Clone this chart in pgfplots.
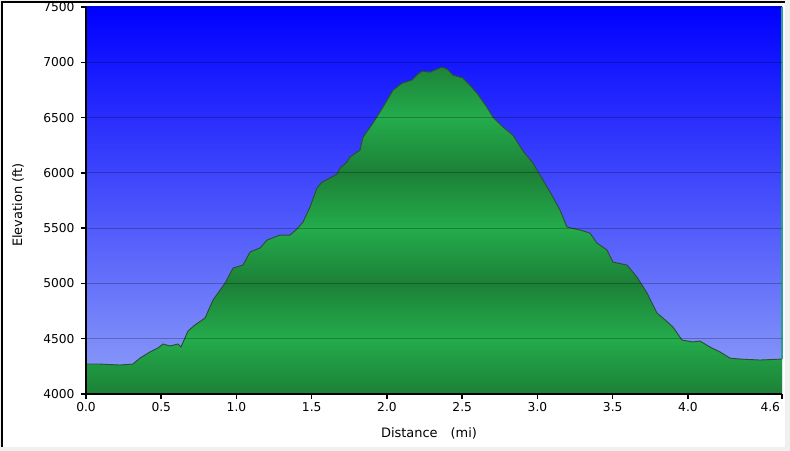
\documentclass[border=0pt]{standalone}
\usepackage{pgfplots}
\usepackage{pgfplotstable}
\pgfplotsset{compat=1.18}
\usepackage{fontspec}
\setmainfont{DejaVu Sans}
\definecolor{skytop}{RGB}{0,0,255}
\definecolor{skybot}{RGB}{143,160,248}
\definecolor{gdark}{RGB}{28,128,55}
\definecolor{glight}{RGB}{36,172,76}
\definecolor{outline}{RGB}{45,75,55}
\definecolor{edge}{RGB}{40,160,140}
\definecolor{framegray}{RGB}{240,240,240}

\pgfdeclareverticalshading{bandup}{100bp}{color(0bp)=(gdark); color(25bp)=(gdark); color(75bp)=(glight); color(100bp)=(glight)}
\pgfdeclareverticalshading{banddown}{100bp}{color(0bp)=(glight); color(25bp)=(glight); color(75bp)=(gdark); color(100bp)=(gdark)}

\pgfplotstableread{
x elev
0.000 4271
0.093 4271
0.160 4266
0.226 4262
0.312 4271
0.359 4325
0.425 4380
0.478 4416
0.512 4452
0.558 4434
0.611 4452
0.631 4425
0.678 4570
0.724 4624
0.791 4687
0.844 4850
0.924 5003
0.977 5139
1.043 5166
1.090 5284
1.156 5320
1.203 5392
1.289 5437
1.355 5437
1.402 5492
1.442 5555
1.488 5690
1.535 5862
1.568 5917
1.621 5953
1.668 5989
1.688 6043
1.734 6097
1.754 6142
1.821 6206
1.841 6323
1.907 6450
1.973 6594
2.040 6748
2.100 6811
2.166 6839
2.199 6884
2.233 6920
2.286 6911
2.332 6938
2.365 6956
2.399 6938
2.439 6884
2.505 6857
2.551 6793
2.598 6721
2.664 6594
2.704 6504
2.771 6414
2.837 6341
2.904 6197
2.970 6088
3.037 5935
3.103 5781
3.150 5663
3.196 5510
3.282 5483
3.349 5455
3.395 5365
3.462 5302
3.502 5193
3.595 5166
3.661 5058
3.728 4913
3.794 4732
3.834 4687
3.900 4606
3.960 4488
4.033 4470
4.080 4479
4.146 4425
4.213 4380
4.279 4325
4.346 4316
4.478 4307
4.625 4316
}\profile

\tikzset{band/.style={path picture={}, draw=none}}

\begin{document}
\begin{tikzpicture}[x=1bp,y=1bp]
\useasboundingbox (0,0) rectangle (790,451);
\fill[framegray] (0,0) rectangle (790,451);
\fill[white] (2,4) rectangle (785,449);
\draw[black, line width=1.5bp] (2,4) -- (2,449) -- (785,449);
\begin{axis}[
  at={(86bp,57bp)}, anchor=south west,
  width=696bp, height=387bp, scale only axis,
  xmin=0, xmax=4.625, ymin=4000, ymax=7500,
  axis x line*=bottom, axis y line*=left,
  axis line style={line width=1.5bp, black},
  axis background/.style={top color=skytop, bottom color=skybot},
  axis on top,
  xtick={0,0.5,1.0,1.5,2.0,2.5,3.0,3.5,4.0,4.625},
  xticklabels={0.0,0.5,1.0,1.5,2.0,2.5,3.0,3.5,4.0,{\hbox to 0pt{\hss 4.6\kern2bp}}},
  ytick={4000,4500,5000,5500,6000,6500,7000,7500},
  yticklabels={4000,4500,5000,5500,6000,6500,7000,7500},
  tick align=outside, major tick length=5bp,
  tick style={black, line width=1.5bp},
  ticklabel style={font=\fontsize{12.3}{14}\selectfont},
  yticklabel style={xshift=-3bp},
  ymajorgrids, major grid style={black, opacity=0.25, line width=0.8bp},
  clip=false,
]
\addplot[draw=none, fill=glight, path picture={
  \shade[band, shading=bandup] (axis cs:0,7000) rectangle (axis cs:4.625,7500);
  \shade[band, shading=banddown] (axis cs:0,6500) rectangle (axis cs:4.625,7000);
  \shade[band, shading=bandup] (axis cs:0,6000) rectangle (axis cs:4.625,6500);
  \shade[band, shading=banddown] (axis cs:0,5500) rectangle (axis cs:4.625,6000);
  \shade[band, shading=bandup] (axis cs:0,5000) rectangle (axis cs:4.625,5500);
  \shade[band, shading=banddown] (axis cs:0,4500) rectangle (axis cs:4.625,5000);
  \shade[band, shading=bandup] (axis cs:0,4000) rectangle (axis cs:4.625,4500);
}] table[x=x, y=elev] {\profile} \closedcycle;
\addplot[outline, line width=0.9bp] table[x=x, y=elev] {\profile};
\addplot[edge, line width=1.2bp] coordinates {(4.625,4316) (4.625,7500)};
\end{axis}
\node[rotate=90, font=\fontsize{13}{15}\selectfont] at (18,246) {Elevation (ft)};
\node[font=\fontsize{13}{15}\selectfont] at (429,18) {Distance\hspace{13bp}(mi)};
\end{tikzpicture}
\end{document}
